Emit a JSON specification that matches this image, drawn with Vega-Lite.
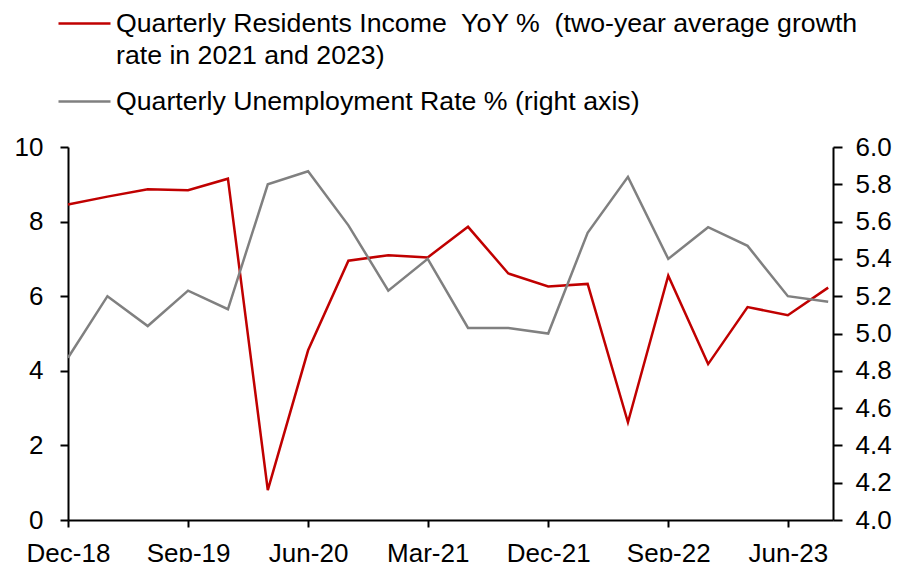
{
  "$schema": "https://vega.github.io/schema/vega-lite/v6.json",
  "width": 765,
  "height": 373,
  "autosize": "none",
  "padding": {"left": 68, "top": 147, "right": 64, "bottom": 42},
  "background": "white",
  "config": {
    "view": {"stroke": null},
    "font": "Liberation Sans",
    "axis": {
      "grid": false,
      "title": null,
      "domainColor": "black",
      "domainWidth": 2,
      "tickColor": "black",
      "tickWidth": 2,
      "labelColor": "black",
      "labelFont": "Liberation Sans",
      "labelFontSize": 26,
      "labelOverlap": false,
      "labelFlush": false
    }
  },
  "data": {
    "values": [
      {"quarter": "2018-12-01", "income": 8.46, "unemployment": 4.87},
      {"quarter": "2019-03-01", "income": 8.67, "unemployment": 5.20},
      {"quarter": "2019-06-01", "income": 8.87, "unemployment": 5.04},
      {"quarter": "2019-09-01", "income": 8.84, "unemployment": 5.23},
      {"quarter": "2019-12-01", "income": 9.15, "unemployment": 5.13},
      {"quarter": "2020-03-01", "income": 0.80, "unemployment": 5.80},
      {"quarter": "2020-06-01", "income": 4.55, "unemployment": 5.87},
      {"quarter": "2020-09-01", "income": 6.95, "unemployment": 5.58},
      {"quarter": "2020-12-01", "income": 7.10, "unemployment": 5.23},
      {"quarter": "2021-03-01", "income": 7.04, "unemployment": 5.40},
      {"quarter": "2021-06-01", "income": 7.86, "unemployment": 5.03},
      {"quarter": "2021-09-01", "income": 6.61, "unemployment": 5.03},
      {"quarter": "2021-12-01", "income": 6.26, "unemployment": 5.00},
      {"quarter": "2022-03-01", "income": 6.33, "unemployment": 5.54},
      {"quarter": "2022-06-01", "income": 2.62, "unemployment": 5.84},
      {"quarter": "2022-09-01", "income": 6.55, "unemployment": 5.40},
      {"quarter": "2022-12-01", "income": 4.18, "unemployment": 5.57},
      {"quarter": "2023-03-01", "income": 5.71, "unemployment": 5.47},
      {"quarter": "2023-06-01", "income": 5.49, "unemployment": 5.20},
      {"quarter": "2023-09-01", "income": 6.23, "unemployment": 5.17}
    ]
  },
  "layer": [
    {
      "mark": {"type": "line", "strokeWidth": 2.5},
      "encoding": {
        "x": {
          "field": "quarter",
          "type": "temporal",
          "scale": {
            "type": "utc",
            "domain": [
              {"year": 2018, "month": 12, "date": 1, "utc": true},
              {"year": 2023, "month": 9, "date": 12, "utc": true}
            ]
          },
          "axis": {
            "values": [
              {"year": 2018, "month": 12, "date": 1, "utc": true},
              {"year": 2019, "month": 9, "date": 1, "utc": true},
              {"year": 2020, "month": 6, "date": 1, "utc": true},
              {"year": 2021, "month": 3, "date": 1, "utc": true},
              {"year": 2021, "month": 12, "date": 1, "utc": true},
              {"year": 2022, "month": 9, "date": 1, "utc": true},
              {"year": 2023, "month": 6, "date": 1, "utc": true}
            ],
            "labelExpr": "utcFormat(datum.value, '%b-%y')",
            "tickSize": 7,
            "labelPadding": 13
          }
        },
        "y": {
          "field": "income",
          "type": "quantitative",
          "scale": {"domain": [0, 10], "nice": false},
          "axis": {
            "orient": "left",
            "values": [0, 2, 4, 6, 8, 10],
            "tickSize": 8,
            "labelPadding": 17
          }
        },
        "color": {
          "datum": "Quarterly Residents Income  YoY %  (two-year average growth rate in 2021 and 2023)",
          "type": "nominal",
          "scale": {
            "domain": [
              "Quarterly Residents Income  YoY %  (two-year average growth rate in 2021 and 2023)",
              "Quarterly Unemployment Rate % (right axis)"
            ],
            "range": ["#C00000", "#808080"]
          },
          "legend": {
            "orient": "none",
            "legendX": -11,
            "legendY": -151,
            "title": null,
            "padding": 0,
            "symbolType": "stroke",
            "symbolSize": 2704,
            "symbolStrokeWidth": 2.5,
            "labelFont": "Liberation Sans",
            "labelFontSize": 26.7,
            "labelColor": "black",
            "labelLimit": 1000,
            "labelOffset": 4,
            "rowPadding": 4,
            "labelExpr": "indexof(datum.label, 'growth') > 0 ? ['Quarterly Residents Income\u00a0 YoY %\u00a0 (two-year average growth', 'rate in 2021 and 2023)'] : datum.label",
            "encode": {"labels": {"update": {"lineHeight": {"value": 32}}}}
          }
        }
      }
    },
    {
      "mark": {"type": "line", "strokeWidth": 2.5},
      "encoding": {
        "x": {"field": "quarter", "type": "temporal"},
        "y": {
          "field": "unemployment",
          "type": "quantitative",
          "scale": {"domain": [4, 6], "nice": false},
          "axis": {
            "orient": "right",
            "values": [4.0, 4.2, 4.4, 4.6, 4.8, 5.0, 5.2, 5.4, 5.6, 5.8, 6.0],
            "format": ".1f",
            "tickSize": 9,
            "labelPadding": 13
          }
        },
        "color": {
          "datum": "Quarterly Unemployment Rate % (right axis)",
          "type": "nominal"
        }
      }
    }
  ],
  "resolve": {"scale": {"y": "independent"}}
}
